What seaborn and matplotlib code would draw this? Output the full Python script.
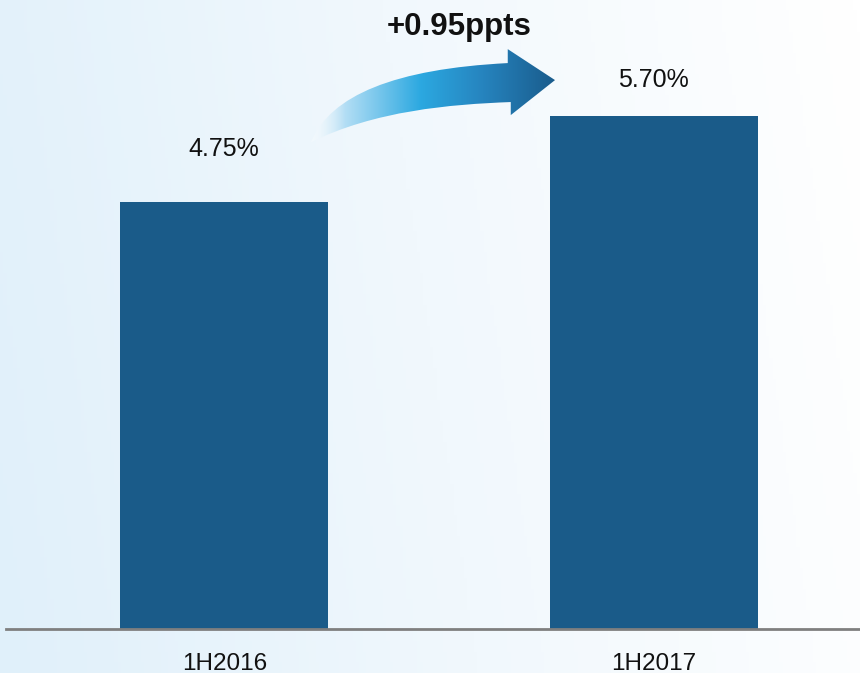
import numpy as np
import pandas as pd
import matplotlib
matplotlib.use("Agg")
import matplotlib.pyplot as plt
import seaborn as sns
from matplotlib.colors import LinearSegmentedColormap
from matplotlib.path import Path
from matplotlib.patches import PathPatch

# data
periods = ["1H2016", "1H2017"]
ratios = [4.75, 5.70]
value_labels = ["4.75%", "5.70%"]
change_label = "+0.95ppts"

sns.set_theme(style="white")
plt.rcParams['font.family'] = ['Liberation Sans', 'DejaVu Sans']

bar_color = "#1a5b89"
label_pad = [0.506, 0.322]

fig = plt.figure(figsize=(8.6, 6.73), dpi=100)

# background gradient, light blue on the left fading to white
bg = fig.add_axes([0, 0, 1, 1], zorder=0)
gx = np.linspace(0, 1, 256)
gy = np.linspace(0, 1, 64)
gxx, gyy = np.meshgrid(gx, gy)
grad = np.clip(gxx * 0.9 + (1 - gyy) * 0.1, 0, 1)
bg_cmap = LinearSegmentedColormap.from_list("bg", ["#e0f0fa", "#f1f8fd", "#ffffff"])
bg.imshow(grad, cmap=bg_cmap, aspect="auto", extent=[0, 1, 0, 1], origin="upper")
bg.axis("off")

ax = fig.add_axes([0.007, 0.0654, 0.993, 0.9346], zorder=1)
ax.patch.set_alpha(0)

df = pd.DataFrame({"period": periods, "ratio": ratios})
sns.barplot(data=df, x="period", y="ratio", color=bar_color, saturation=1,
            width=0.485, linewidth=0, edgecolor="none", ax=ax)

for i, (v, lab) in enumerate(zip(ratios, value_labels)):
    ax.text(i, v + label_pad[i], lab, ha="center", va="baseline", fontsize=18, color="#111111")

# curved gradient arrow between the two bars
tail = (0.202, 5.41)
verts = [tail, (0.268, 6.194), (0.660, 6.289),
         (0.660, 6.444), (0.770, 6.100), (0.667, 5.711), (0.667, 5.856),
         (0.525, 5.83), (0.351, 5.76), tail, tail]
codes = [Path.MOVETO, Path.CURVE3, Path.CURVE3,
         Path.LINETO, Path.LINETO, Path.LINETO, Path.LINETO,
         Path.CURVE4, Path.CURVE4, Path.CURVE4, Path.CLOSEPOLY]
patch = PathPatch(Path(verts, codes), facecolor="none", edgecolor="none")
ax.add_patch(patch)
arrow_cmap = LinearSegmentedColormap.from_list(
    "arrow", [(0.0, (1, 1, 1, 0.3)), (0.14, (0.70, 0.87, 0.96, 1.0)), (0.45, (0.17, 0.66, 0.88, 1.0)),
              (0.7, (0.15, 0.52, 0.75, 1.0)), (1.0, (0.10, 0.36, 0.55, 1.0))])
ramp = np.linspace(0, 1, 256).reshape(1, -1)
im = ax.imshow(ramp, cmap=arrow_cmap, aspect="auto", extent=[0.202, 0.770, 5.38, 6.46],
               origin="lower", zorder=3)
im.set_clip_path(patch)

ax.text(0.546, 6.60, change_label, ha="center", va="baseline", fontsize=22.5, fontweight="bold", color="#111111")

ax.set_xlim(-0.508, 1.48)
ax.set_ylim(0, 6.99)
ax.set_xlabel("")
ax.set_ylabel("")
ax.set_yticks([])
ax.tick_params(axis="x", length=0, pad=17, labelsize=17.5, labelcolor="#111111")
for s in ["top", "right", "left"]:
    ax.spines[s].set_visible(False)
ax.spines["bottom"].set_color("#7f7f7f")
ax.spines["bottom"].set_linewidth(2)

fig.savefig("out.png", dpi=100)
